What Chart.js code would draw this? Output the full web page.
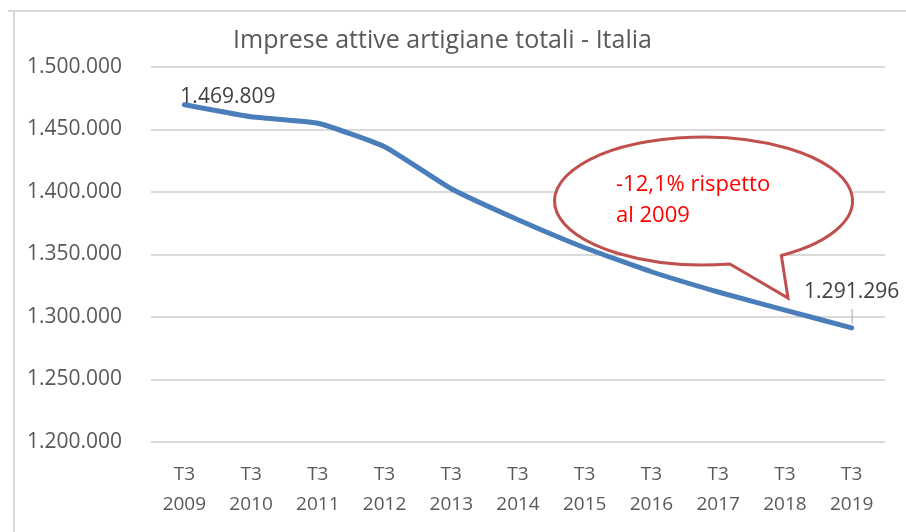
<!DOCTYPE html>
<html>
<head>
<meta charset="utf-8">
<script src="https://cdn.jsdelivr.net/npm/chart.js@4/dist/chart.umd.min.js"></script>
<style>
  body { margin: 0; background: #fff; }
</style>
</head>
<body>
<canvas id="grafico" width="906" height="532"></canvas>
<script>
// DATI
const anni = ['2009', '2010', '2011', '2012', '2013', '2014', '2015', '2016', '2017', '2018', '2019'];
const trimestre = 'T3';
const imprese = [1469809, 1460200, 1455000, 1436200, 1402600, 1377800, 1355400, 1336200, 1320000, 1305500, 1291296];
const yMin = 1200000;
const yMax = 1500000;
const yStep = 50000;
const nota = ['-12,1% rispetto', 'al 2009'];

const formatta = v => String(v).replace(/\B(?=(\d{3})+(?!\d))/g, '.');

// cornice grigia in alto e a sinistra
const cornice = {
  id: 'cornice',
  beforeDraw(chart) {
    const c = chart.ctx;
    c.save();
    c.strokeStyle = '#d9d9d9';
    c.lineWidth = 2;
    c.beginPath();
    c.moveTo(8, 11);
    c.lineTo(906, 11);
    c.moveTo(14, 11);
    c.lineTo(14, 532);
    c.stroke();
    c.restore();
  }
};

// etichette primo e ultimo valore + fumetto
const etichette = {
  id: 'etichette',
  afterDatasetsDraw(chart) {
    const c = chart.ctx;
    const pts = chart.getDatasetMeta(0).data;
    const p0 = pts[0];
    const pn = pts[pts.length - 1];
    c.save();
    c.font = '21px "Open Sans"';
    c.fillStyle = '#404040';
    c.textBaseline = 'middle';
    c.textAlign = 'left';
    c.fillText(formatta(imprese[0]), p0.x - 4, p0.y - 8);
    c.textAlign = 'center';
    c.fillText(formatta(imprese[imprese.length - 1]), pn.x, pn.y - 36);
    c.strokeStyle = '#a6a6a6';
    c.lineWidth = 1;
    c.beginPath();
    c.moveTo(pn.x + 0.5, pn.y - 19);
    c.lineTo(pn.x + 0.5, pn.y - 4);
    c.stroke();

    // fumetto
    const cx = 703.5, cy = 201, rx = 149, ry = 64;
    const deg = Math.PI / 180;
    c.beginPath();
    c.ellipse(cx, cy, rx, ry, 0, 79.8 * deg, 58.5 * deg, false);
    c.lineTo(788, 298);
    c.closePath();
    c.fillStyle = '#ffffff';
    c.fill();
    c.strokeStyle = '#c0504d';
    c.lineWidth = 3;
    c.lineJoin = 'miter';
    c.stroke();
    c.fillStyle = '#ff0000';
    c.font = '22px "Open Sans"';
    c.textAlign = 'left';
    c.fillText(nota[0], 616, 185);
    c.fillText(nota[1], 616, 216);
    c.restore();
  }
};

const ctx = document.getElementById('grafico');

new Chart(ctx, {
  type: 'line',
  data: {
    labels: anni.map(a => [trimestre, a]),
    datasets: [{
      label: 'Imprese attive artigiane',
      data: imprese,
      borderColor: '#4a7ebb',
      borderWidth: 5,
      borderCapStyle: 'round',
      borderJoinStyle: 'round',
      pointRadius: 0,
      tension: 0.15,
      fill: false
    }]
  },
  options: {
    responsive: false,
    animation: false,
    layout: { padding: { top: 19, right: 21, left: 0, bottom: 0 } },
    plugins: {
      legend: { display: false },
      tooltip: { enabled: false },
      title: {
        display: true,
        text: 'Imprese attive artigiane totali - Italia',
        color: '#595959',
        font: { family: '"Open Sans"', size: 25, weight: 'normal' },
        padding: { top: 7, bottom: 11 }
      }
    },
    scales: {
      x: {
        offset: true,
        grid: { display: false, offset: true },
        border: { display: false },
        ticks: {
          color: '#595959',
          font: { family: '"Open Sans"', size: 19, lineHeight: 1.6 },
          padding: 9,
          maxRotation: 0,
          autoSkip: false
        },
        afterFit(s) { s.height = 90; }
      },
      y: {
        min: yMin,
        max: yMax,
        grid: { color: '#d9d9d9', lineWidth: 2, drawTicks: false },
        border: { display: false },
        ticks: {
          stepSize: yStep,
          color: '#595959',
          font: { family: '"Open Sans"', size: 21 },
          padding: 29,
          callback: v => formatta(v)
        },
        afterFit(s) { s.width = 151; }
      }
    }
  },
  plugins: [cornice, etichette]
});
</script>
</body>
</html>
